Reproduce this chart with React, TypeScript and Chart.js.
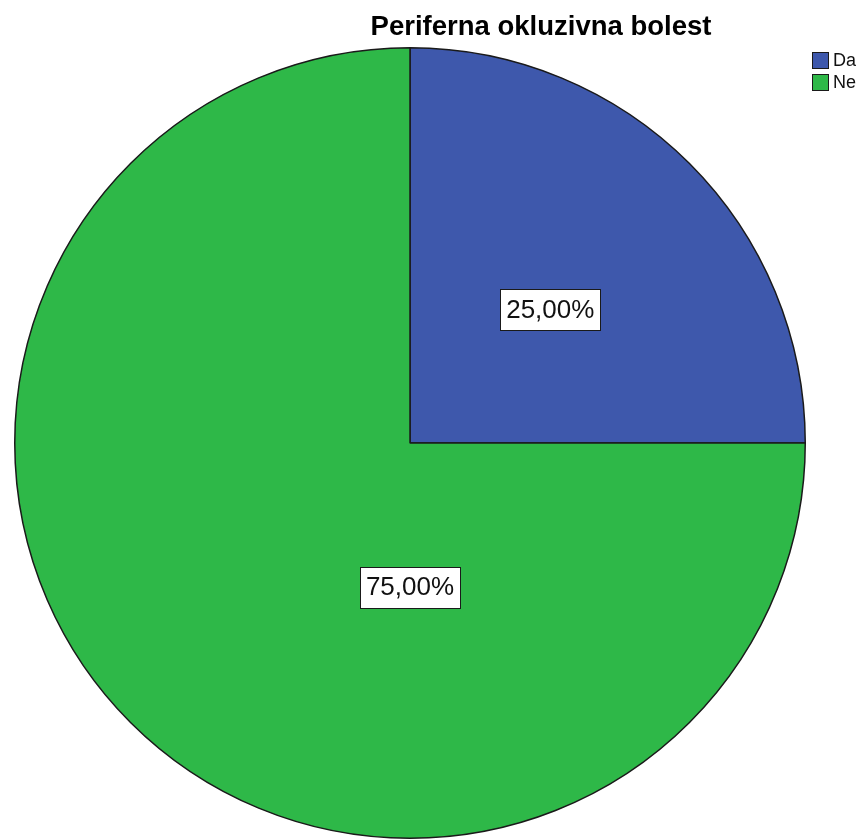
import React, { useEffect, useRef } from "react";
import { Chart, registerables } from "chart.js";

Chart.register(...registerables);

const titleText = "Periferna okluzivna bolest";
const categories = ["Da", "Ne"];
const values = [25, 75];
const labelTexts = ["25,00%", "75,00%"];
const sliceColors = ["#3e58ac", "#2eb848"];

const customDraw = {
  id: "customDraw",
  afterDatasetsDraw(chart: any) {
    const ctx = chart.ctx;
    const meta = chart.getDatasetMeta(0);
    const opts = chart.options.plugins.customDraw;
    ctx.save();
    // labels
    meta.data.forEach((arc: any, i: number) => {
      const r = arc.outerRadius;
      const ang = opts.labelAngles[i];
      const frac = opts.labelRadii[i];
      const x = arc.x + Math.sin(ang) * r * frac;
      const y = arc.y - Math.cos(ang) * r * frac;
      ctx.font = "26px Arial, 'Liberation Sans', sans-serif";
      const t = labelTexts[i];
      const w = ctx.measureText(t).width;
      const bw = Math.round(w + 12);
      const bh = 41;
      const bx = Math.round(x - bw / 2) + 0.5;
      const by = Math.round(y - bh / 2) + 0.5;
      ctx.fillStyle = "#ffffff";
      ctx.fillRect(bx, by, bw, bh);
      ctx.strokeStyle = "#1a1a1a";
      ctx.lineWidth = 1;
      ctx.strokeRect(bx, by, bw, bh);
      ctx.fillStyle = "#111111";
      ctx.textAlign = "center";
      ctx.textBaseline = "middle";
      ctx.fillText(t, x, y + 1);
    });
    // title
    ctx.font = "bold 27.5px Arial, 'Liberation Sans', sans-serif";
    ctx.fillStyle = "#000000";
    ctx.textAlign = "center";
    ctx.textBaseline = "middle";
    ctx.fillText(titleText, 541, 27);
    // legend
    ctx.font = "18px Arial, 'Liberation Sans', sans-serif";
    ctx.textAlign = "left";
    ctx.lineWidth = 1;
    categories.forEach((c, i) => {
      const y = 52 + i * 22;
      ctx.fillStyle = sliceColors[i];
      ctx.fillRect(812.5, y + 0.5, 16, 16);
      ctx.strokeStyle = "#1a1a1a";
      ctx.strokeRect(812.5, y + 0.5, 16, 16);
      ctx.fillStyle = "#111111";
      ctx.fillText(c, 833, y + 9);
    });
    ctx.restore();
  },
};

export default function App() {
  const ref = useRef<HTMLCanvasElement>(null);
  useEffect(() => {
    document.body.style.margin = "0";
    const chart = new Chart(ref.current!, {
      type: "pie",
      data: {
        labels: categories,
        datasets: [
          {
            data: values,
            backgroundColor: sliceColors,
            borderColor: "#1a1a1a",
            borderWidth: 1.5,
          },
        ],
      },
      options: {
        responsive: false,
        animation: false,
        layout: { padding: { left: 13, right: 55, top: 47, bottom: -2 } },
        plugins: {
          legend: { display: false },
          tooltip: { enabled: false },
          title: { display: false },
          customDraw: {
            labelAngles: [0.81, Math.PI],
            labelRadii: [0.49, 0.365],
          },
        } as any,
      },
      plugins: [customDraw],
    });
    return () => chart.destroy();
  }, []);
  return (
    <div style={{ width: 862, height: 839 }}>
      <canvas ref={ref} width={862} height={839} style={{ display: "block" }} />
    </div>
  );
}
